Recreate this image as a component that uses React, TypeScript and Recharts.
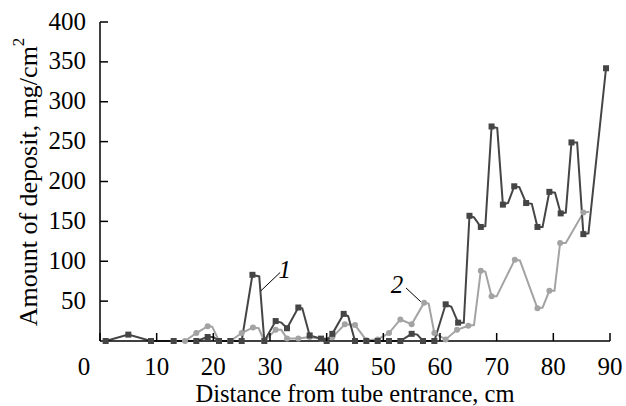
import { Line, LineChart, ReferenceDot, ReferenceLine, XAxis, YAxis } from 'recharts'

// distance (cm), amount of deposit (mg/cm2)
const series1: [number, number][] = [
  [1, 0], [5, 8], [9, 0], [13, 0], [17, 0], [19, 5], [20, 5], [21, 0], [23, 0], [25, 0],
  [26.9, 83], [28.1, 81], [29, 0], [31, 25], [32, 23], [33, 16], [35, 42], [35.7, 41],
  [37, 7], [39, 3], [40, 0], [41, 9], [43, 34], [43.8, 31], [45, 0], [47, 0], [49, 0],
  [51, 0], [53, 0], [55, 9], [56, 8], [57, 0], [59, 0], [61, 46], [62, 43], [63.2, 23],
  [64.2, 23], [65.2, 157], [66, 155], [67.2, 143], [68, 144], [69.1, 269], [70.1, 267],
  [71.1, 171], [72, 173], [73.1, 194], [74, 193], [75.2, 173], [76.2, 172], [77.2, 143],
  [78.1, 143], [79.3, 187], [80.3, 186], [81.3, 160], [82.2, 161], [83.2, 249],
  [84.2, 249], [85.3, 134], [86.2, 135], [89.3, 342],
]
const series1Bends = [20, 28.1, 32, 35.7, 43.8, 56, 62, 64.2, 66, 68, 70.1, 72, 74, 76.2, 78.1, 80.3, 82.2, 84.2, 86.2]

const series2: [number, number][] = [
  [13, 0], [15, 0], [17, 10], [19, 18.5], [19.8, 18], [21, 0], [23, 0], [25, 10], [27, 17],
  [28, 16], [29, 0], [31, 14], [32, 14], [33, 3], [35, 3], [37, 5], [39, 2.5], [41, 4.6],
  [43.2, 21], [45, 20], [47, 1], [49, 2], [51, 10], [53, 27], [55, 21], [57.2, 48], [58, 47],
  [59, 10], [61, 2], [63, 14], [65, 19], [66, 20], [67.2, 88], [68, 87], [69.1, 56], [70, 56],
  [73.2, 102], [74.1, 101], [77.2, 41], [78.1, 42], [79.3, 63], [80.2, 63], [81.2, 123],
  [82.2, 123], [85.3, 161], [86.3, 162],
]
const series2Bends = [19.8, 28, 32, 58, 66, 68, 70, 74.1, 78.1, 80.2, 82.2, 86.3]

const xTicks = [0, 10, 20, 30, 40, 50, 60, 70, 80, 90]
const yTicks = [50, 100, 150, 200, 250, 300, 350, 400]

const FONT = 'Liberation Serif'
const DARK = '#454545'
const LIGHT = '#a3a3a3'

const toRows = (s: [number, number][]) => s.map(([x, y]) => ({ x, y }))

function XTick({ x, y, payload }: any) {
  const v = payload.value
  return (
    <g>
      <line x1={x} x2={x} y1={y} y2={y - 8} stroke="#000" strokeWidth={1.5} />
      <text x={v === 0 ? x - 16 : x} y={y + 25} textAnchor="middle" dominantBaseline="central"
        fontFamily={FONT} fontSize={25} fill="#000">{v}</text>
    </g>
  )
}

function YTick({ x, y, payload }: any) {
  return (
    <g>
      <line x1={x} x2={x + 8} y1={y} y2={y} stroke="#000" strokeWidth={1.5} />
      <text x={x - 14} y={y - 1} textAnchor="end" dominantBaseline="central"
        fontFamily={FONT} fontSize={25} fill="#000">{payload.value}</text>
    </g>
  )
}

function makeDot(bends: number[], square: boolean, color: string) {
  return (props: any) => {
    const { cx, cy, payload, index } = props
    if (bends.includes(payload.x)) return <g key={index} />
    return square
      ? <rect key={index} x={cx - 3} y={cy - 3} width={6} height={6} fill={color} />
      : <circle key={index} cx={cx} cy={cy} r={3} fill={color} />
  }
}

export default function App() {
  return (
    <div style={{ position: 'absolute', left: 0, top: 0, background: '#fff' }}>
      <LineChart width={626} height={406} margin={{ top: 22, right: 16, left: 0, bottom: 0 }}>
        <XAxis
          type="number"
          dataKey="x"
          domain={[0, 90]}
          ticks={xTicks}
          height={65}
          tickSize={0}
          tickMargin={0}
          tickLine={false}
          axisLine={{ stroke: '#000', strokeWidth: 1.5 }}
          tick={<XTick />}
          allowDataOverflow
        />
        <YAxis
          type="number"
          domain={[0, 400]}
          ticks={yTicks}
          width={100}
          tickSize={0}
          tickMargin={0}
          tickLine={false}
          axisLine={{ stroke: '#000', strokeWidth: 1.5 }}
          tick={<YTick />}
        />
        <Line
          data={toRows(series2)}
          dataKey="y"
          type="linear"
          stroke={LIGHT}
          strokeWidth={2}
          dot={makeDot(series2Bends, false, LIGHT)}
          isAnimationActive={false}
        />
        <Line
          data={toRows(series1)}
          dataKey="y"
          type="linear"
          stroke={DARK}
          strokeWidth={2}
          dot={makeDot(series1Bends, true, DARK)}
          isAnimationActive={false}
        />
        <ReferenceLine segment={[{ x: 28.4, y: 63 }, { x: 31.8, y: 86 }]} stroke="#000" strokeWidth={1} />
        <ReferenceLine segment={[{ x: 54.0, y: 66.5 }, { x: 56.6, y: 49.3 }]} stroke="#000" strokeWidth={1} />
        <ReferenceDot
          x={32.6}
          y={90}
          r={0}
          shape={(p: any) => (
            <text x={p.cx} y={p.cy} textAnchor="middle" dominantBaseline="central"
              fontFamily={FONT} fontStyle="italic" fontSize={25} fill="#000">1</text>
          )}
        />
        <ReferenceDot
          x={52.4}
          y={71}
          r={0}
          shape={(p: any) => (
            <text x={p.cx} y={p.cy} textAnchor="middle" dominantBaseline="central"
              fontFamily={FONT} fontStyle="italic" fontSize={25} fill="#000">2</text>
          )}
        />
        <text x={355} y={393} textAnchor="middle" dominantBaseline="central"
          fontFamily={FONT} fontSize={24.5} fill="#000">Distance from tube entrance, cm</text>
        <text x={28} y={182} transform="rotate(-90 28 182)" textAnchor="middle" dominantBaseline="central"
          fontFamily={FONT} fontSize={26} fill="#000">
          Amount of deposit, mg/cm<tspan fontSize={17} dy={-10}>2</tspan>
        </text>
      </LineChart>
    </div>
  )
}
